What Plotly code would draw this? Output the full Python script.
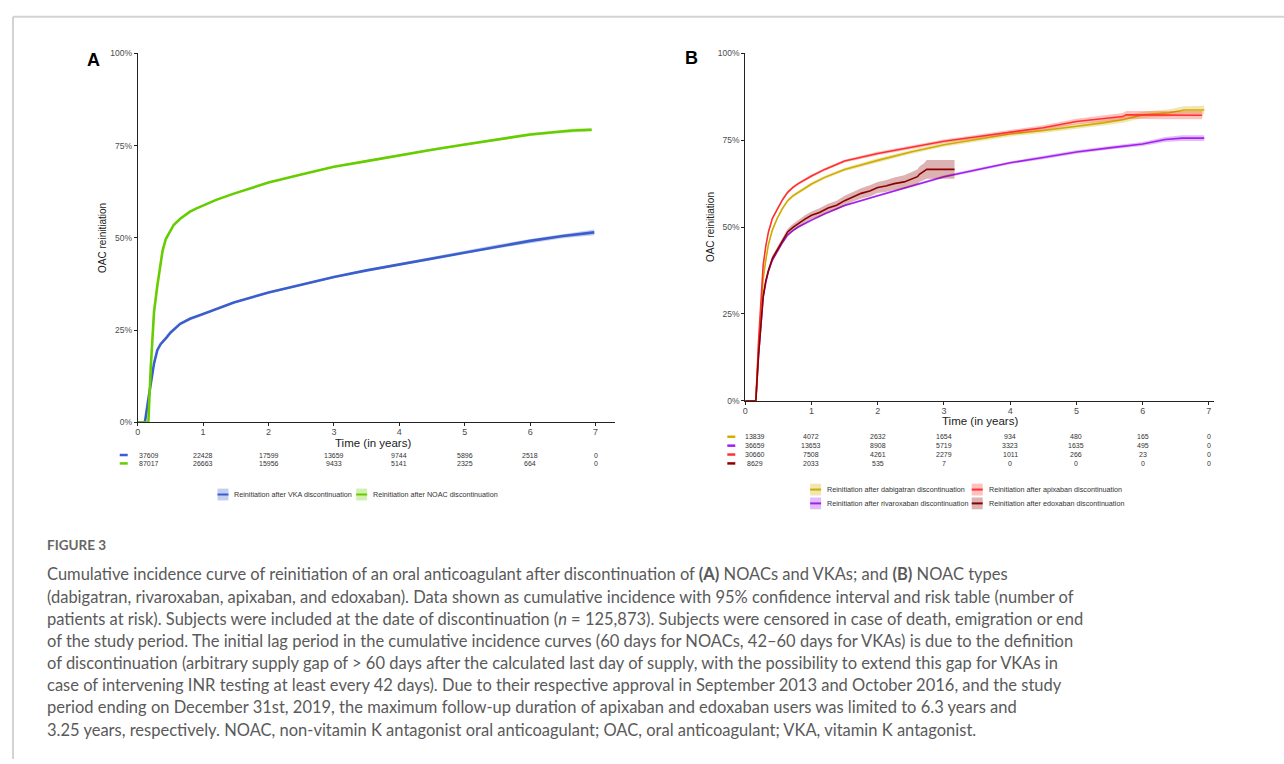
import plotly.graph_objects as go

W, H = 1284, 764

# ---------------- data ----------------
years = [0, 1, 2, 3, 4, 5, 6, 7]
pct_ticks = [0, 0.25, 0.5, 0.75, 1.0]
pct_labels = ["0%", "25%", "50%", "75%", "100%"]

# Panel A
vka_t = [0, 0.11, 0.16, 0.22, 0.25, 0.30, 0.35, 0.44, 0.5, 0.65, 0.8, 1.0, 1.2, 1.47, 2.0, 2.5, 3.0, 3.5, 4.0, 4.5, 5.0, 5.5, 6.0, 6.5, 6.98]
vka_y = [0, 0, 0.06, 0.13, 0.16, 0.196, 0.212, 0.23, 0.243, 0.267, 0.281, 0.294, 0.308, 0.325, 0.352, 0.374, 0.394, 0.412, 0.428, 0.444, 0.462, 0.477, 0.492, 0.505, 0.515]
vka_ci = [0, 0, 0.002, 0.002, 0.002, 0.002, 0.002, 0.002, 0.002, 0.002, 0.002, 0.002, 0.002, 0.002, 0.003, 0.003, 0.003, 0.003, 0.004, 0.004, 0.004, 0.005, 0.005, 0.006, 0.008]

noac_t = [0, 0.163, 0.20, 0.25, 0.30, 0.34, 0.38, 0.43, 0.49, 0.55, 0.65, 0.72, 0.8, 0.9, 1.0, 1.2, 1.47, 2.0, 2.5, 3.0, 3.5, 4.0, 4.5, 5.0, 5.5, 6.0, 6.4, 6.65, 6.94]
noac_y = [0, 0, 0.15, 0.30, 0.37, 0.425, 0.465, 0.497, 0.518, 0.535, 0.552, 0.562, 0.571, 0.58, 0.588, 0.603, 0.62, 0.65, 0.672, 0.693, 0.708, 0.724, 0.739, 0.753, 0.766, 0.78, 0.787, 0.791, 0.793]
noac_ci = [0, 0, 0.002, 0.002, 0.002, 0.002, 0.002, 0.002, 0.002, 0.002, 0.002, 0.002, 0.002, 0.002, 0.002, 0.002, 0.002, 0.002, 0.002, 0.002, 0.003, 0.003, 0.003, 0.003, 0.003, 0.004, 0.004, 0.005, 0.005]

risk_A_vka = ["37609", "22428", "17599", "13659", "9744", "5896", "2518", "0"]
risk_A_noac = ["87017", "26663", "15956", "9433", "5141", "2325", "664", "0"]

# Panel B
dabi_t = [0, 0.16, 0.20, 0.24, 0.27, 0.31, 0.35, 0.41, 0.48, 0.56, 0.64, 0.72, 0.8, 0.9, 1.0, 1.2, 1.5, 2.0, 2.5, 3.0, 3.5, 4.0, 4.5, 5.0, 5.4, 5.7, 6.0, 6.4, 6.63, 6.93]
dabi_y = [0, 0, 0.15, 0.28, 0.35, 0.405, 0.45, 0.492, 0.524, 0.553, 0.576, 0.59, 0.60, 0.613, 0.624, 0.643, 0.666, 0.692, 0.716, 0.737, 0.753, 0.768, 0.778, 0.79, 0.80, 0.809, 0.823, 0.829, 0.837, 0.837]
dabi_ci = [0, 0, 0.004, 0.005, 0.005, 0.005, 0.005, 0.005, 0.005, 0.005, 0.005, 0.005, 0.005, 0.005, 0.005, 0.005, 0.005, 0.006, 0.006, 0.006, 0.006, 0.007, 0.007, 0.008, 0.008, 0.009, 0.009, 0.010, 0.011, 0.012]

apix_t = [0, 0.16, 0.20, 0.24, 0.27, 0.31, 0.35, 0.41, 0.48, 0.56, 0.64, 0.72, 0.8, 0.9, 1.0, 1.2, 1.5, 2.0, 2.5, 3.0, 3.5, 4.0, 4.5, 5.0, 5.4, 5.7, 5.75, 6.3, 6.9]
apix_y = [0, 0, 0.17, 0.31, 0.39, 0.445, 0.486, 0.525, 0.55, 0.578, 0.60, 0.614, 0.625, 0.637, 0.647, 0.666, 0.69, 0.712, 0.73, 0.747, 0.76, 0.773, 0.786, 0.804, 0.813, 0.818, 0.823, 0.822, 0.822]
apix_ci = [0, 0, 0.004, 0.004, 0.004, 0.004, 0.004, 0.004, 0.004, 0.004, 0.004, 0.004, 0.004, 0.004, 0.004, 0.004, 0.004, 0.005, 0.005, 0.005, 0.006, 0.006, 0.007, 0.008, 0.009, 0.010, 0.011, 0.012, 0.012]

riva_t = [0, 0.16, 0.20, 0.24, 0.27, 0.31, 0.35, 0.41, 0.48, 0.56, 0.64, 0.72, 0.8, 0.9, 1.0, 1.2, 1.5, 2.0, 2.5, 3.0, 3.5, 4.0, 4.5, 5.0, 5.5, 6.0, 6.34, 6.6, 6.93]
riva_y = [0, 0, 0.13, 0.24, 0.297, 0.34, 0.373, 0.405, 0.43, 0.455, 0.477, 0.49, 0.50, 0.511, 0.52, 0.538, 0.562, 0.59, 0.618, 0.645, 0.665, 0.685, 0.70, 0.716, 0.728, 0.739, 0.752, 0.756, 0.756]
riva_ci = [0, 0, 0.003, 0.003, 0.003, 0.003, 0.003, 0.003, 0.003, 0.003, 0.003, 0.003, 0.003, 0.003, 0.003, 0.003, 0.003, 0.003, 0.004, 0.004, 0.004, 0.004, 0.005, 0.005, 0.005, 0.006, 0.007, 0.008, 0.008]

edox_t = [0, 0.16, 0.20, 0.24, 0.27, 0.31, 0.35, 0.41, 0.48, 0.56, 0.64, 0.72, 0.8, 0.9, 1.0, 1.12, 1.25, 1.38, 1.5, 1.62, 1.75, 1.88, 2.0, 2.12, 2.25, 2.4, 2.52, 2.6, 2.63, 2.7, 2.74, 3.16]
edox_y = [0, 0, 0.13, 0.24, 0.30, 0.345, 0.375, 0.41, 0.434, 0.462, 0.486, 0.499, 0.51, 0.523, 0.534, 0.542, 0.555, 0.563, 0.576, 0.587, 0.597, 0.604, 0.614, 0.618, 0.625, 0.63, 0.638, 0.645, 0.652, 0.66, 0.666, 0.666]
edox_ci = [0, 0, 0.006, 0.008, 0.008, 0.008, 0.008, 0.008, 0.008, 0.009, 0.009, 0.010, 0.010, 0.011, 0.011, 0.012, 0.012, 0.013, 0.014, 0.014, 0.015, 0.016, 0.016, 0.017, 0.018, 0.019, 0.020, 0.021, 0.022, 0.024, 0.027, 0.027]

risk_B_dabi = ["13839", "4072", "2632", "1654", "934", "480", "165", "0"]
risk_B_riva = ["36659", "13653", "8908", "5719", "3323", "1635", "495", "0"]
risk_B_apix = ["30660", "7508", "4261", "2279", "1011", "266", "23", "0"]
risk_B_edox = ["8629", "2033", "535", "7", "0", "0", "0", "0"]

names_A = ["Reinitiation after VKA discontinuation", "Reinitiation after NOAC discontinuation"]
names_B = ["Reinitiation after dabigatran discontinuation", "Reinitiation after apixaban discontinuation",
           "Reinitiation after rivaroxaban discontinuation", "Reinitiation after edoxaban discontinuation"]

x_title = "Time (in years)"
y_title = "OAC reinitiation"

caption_title = "FIGURE 3"
caption_lines = [
    "Cumulative incidence curve of reinitiation of an oral anticoagulant after discontinuation of <b>(A)</b> NOACs and VKAs; and <b>(B)</b> NOAC types",
    "(dabigatran, rivaroxaban, apixaban, and edoxaban). Data shown as cumulative incidence with 95% confidence interval and risk table (number of",
    "patients at risk). Subjects were included at the date of discontinuation (<i>n</i> = 125,873). Subjects were censored in case of death, emigration or end",
    "of the study period. The initial lag period in the cumulative incidence curves (60 days for NOACs, 42\u201360 days for VKAs) is due to the definition",
    "of discontinuation (arbitrary supply gap of > 60 days after the calculated last day of supply, with the possibility to extend this gap for VKAs in",
    "case of intervening INR testing at least every 42 days). Due to their respective approval in September 2013 and October 2016, and the study",
    "period ending on December 31st, 2019, the maximum follow-up duration of apixaban and edoxaban users was limited to 6.3 years and",
    "3.25 years, respectively. NOAC, non-vitamin K antagonist oral anticoagulant; OAC, oral anticoagulant; VKA, vitamin K antagonist.",
]

C_VKA, C_NOAC = "#3A5FCD", "#66CD00"
C_DABI, C_APIX, C_RIVA, C_EDOX = "#CDAD00", "#FF3030", "#A020F0", "#8B0000"


def rgba(hexc, a):
    h = hexc.lstrip("#")
    return "rgba(%d,%d,%d,%.2f)" % (int(h[0:2], 16), int(h[2:4], 16), int(h[4:6], 16), a)


def px(x):
    return x / W


def py(y):
    return 1 - y / H


fig = go.Figure()


def add_curve(t, y, ci, color, name, xa, ya, lw):
    up = [a + b for a, b in zip(y, ci)]
    lo = [max(a - b, 0) for a, b in zip(y, ci)]
    fig.add_trace(go.Scatter(x=t, y=up, mode="lines", line=dict(width=0, color=color),
                             xaxis=xa, yaxis=ya, showlegend=False, hoverinfo="skip"))
    fig.add_trace(go.Scatter(x=t, y=lo, mode="lines", line=dict(width=0, color=color),
                             fill="tonexty", fillcolor=rgba(color, 0.3),
                             xaxis=xa, yaxis=ya, showlegend=False, hoverinfo="skip"))
    fig.add_trace(go.Scatter(x=t, y=y, mode="lines", line=dict(width=lw, color=color),
                             xaxis=xa, yaxis=ya, name=name, showlegend=False))


add_curve(vka_t, vka_y, vka_ci, C_VKA, names_A[0], "x", "y", 2.6)
add_curve(noac_t, noac_y, noac_ci, C_NOAC, names_A[1], "x", "y", 2.6)

add_curve(riva_t, riva_y, riva_ci, C_RIVA, names_B[2], "x2", "y2", 1.6)
add_curve(dabi_t, dabi_y, dabi_ci, C_DABI, names_B[0], "x2", "y2", 1.6)
add_curve(apix_t, apix_y, apix_ci, C_APIX, names_B[1], "x2", "y2", 1.6)
add_curve(edox_t, edox_y, edox_ci, C_EDOX, names_B[3], "x2", "y2", 1.6)

FONT = "Liberation Sans, Arial, sans-serif"
TICKC = "#4d4d4d"

axis_common = dict(showgrid=False, zeroline=False, showline=True, linecolor="#222", linewidth=1,
                   ticks="outside", ticklen=3, tickcolor="#222", tickwidth=1)

fig.update_layout(
    width=W, height=H, margin=dict(l=0, r=0, t=0, b=0),
    paper_bgcolor="white", plot_bgcolor="white",
    font=dict(family=FONT, color="#222"),
    showlegend=False,
    xaxis=dict(domain=[px(135), px(613)], range=[0, 7.29], tickvals=years, anchor="y",
               tickfont=dict(size=9, color=TICKC), ticklabelstandoff=-2, **axis_common),
    yaxis=dict(domain=[py(423), py(49)], range=[0, 1], tickvals=pct_ticks, ticktext=pct_labels, anchor="x",
               tickfont=dict(size=8.5, color=TICKC),
               title=dict(text=y_title, font=dict(size=10, color="#222"), standoff=1),
               **axis_common),
    xaxis2=dict(domain=[px(744), px(1214)], range=[0, 7.08], tickvals=years, anchor="y2",
                tickfont=dict(size=9, color=TICKC), ticklabelstandoff=-2, **axis_common),
    yaxis2=dict(domain=[py(401), py(49)], range=[0, 1], tickvals=pct_ticks, ticktext=pct_labels, anchor="x2",
                tickfont=dict(size=8.5, color=TICKC),
                title=dict(text=y_title, font=dict(size=10, color="#222"), standoff=1),
                **axis_common),
)

ann = []
shapes = []

# x-axis titles
ann.append(dict(text=x_title, x=px(371), y=py(443.5), xref="paper", yref="paper", showarrow=False,
                xanchor="center", yanchor="middle", font=dict(size=11.5, color="#222", family=FONT)))
ann.append(dict(text=x_title, x=px(979), y=py(421.5), xref="paper", yref="paper", showarrow=False,
                xanchor="center", yanchor="middle", font=dict(size=11.5, color="#222", family=FONT)))

# panel letters
ann.append(dict(text="<b>A</b>", x=px(91), y=py(56), xref="paper", yref="paper", showarrow=False,
                xanchor="center", yanchor="middle", font=dict(size=18, color="#000", family=FONT)))
ann.append(dict(text="<b>B</b>", x=px(690), y=py(54), xref="paper", yref="paper", showarrow=False,
                xanchor="center", yanchor="middle", font=dict(size=18, color="#000", family=FONT)))


def risk_rows(rows, colors, xref, ys, sw_x0, first_shift):
    for vals, col, yy in zip(rows, colors, ys):
        shapes.append(dict(type="line", xref="paper", yref="paper", x0=px(sw_x0), x1=px(sw_x0 + 8),
                           y0=py(yy), y1=py(yy), line=dict(color=col, width=2.5)))
        for i, (t, v) in enumerate(zip(years, vals)):
            ann.append(dict(text=v, x=t, y=py(yy), xref=xref, yref="paper", showarrow=False,
                            yanchor="middle", xshift=first_shift if i == 0 else 0,
                            font=dict(size=7, color="#333", family=FONT)))


risk_rows([risk_A_vka, risk_A_noac], [C_VKA, C_NOAC], "x", [456, 464.5], 117, 11)
risk_rows([risk_B_dabi, risk_B_riva, risk_B_apix, risk_B_edox], [C_DABI, C_RIVA, C_APIX, C_EDOX],
          "x2", [437.5, 446.5, 455.5, 464.5], 726, 10)


def legend_key(x0, yy, color, text):
    shapes.append(dict(type="rect", xref="paper", yref="paper", x0=px(x0), x1=px(x0 + 11),
                       y0=py(yy + 6), y1=py(yy - 6), fillcolor=rgba(color, 0.3), line=dict(width=0)))
    shapes.append(dict(type="line", xref="paper", yref="paper", x0=px(x0), x1=px(x0 + 11),
                       y0=py(yy), y1=py(yy), line=dict(color=color, width=2)))
    ann.append(dict(text=text, x=px(x0 + 15), y=py(yy), xref="paper", yref="paper", showarrow=False,
                    xanchor="left", yanchor="middle", font=dict(size=7.2, color="#333", family=FONT)))


legend_key(215, 496, C_VKA, names_A[0])
legend_key(354, 496, C_NOAC, names_A[1])
legend_key(809, 491, C_DABI, names_B[0])
legend_key(971, 491, C_APIX, names_B[1])
legend_key(809, 505, C_RIVA, names_B[2])
legend_key(971, 505, C_EDOX, names_B[3])

# caption
CAPF = "Lato, Open Sans, sans-serif"
ann.append(dict(text="<b>" + caption_title + "</b>", x=px(42), y=py(547), xref="paper", yref="paper",
                showarrow=False, xanchor="left", yanchor="middle", font=dict(size=13.5, color="#666", family=CAPF)))
for i, line in enumerate(caption_lines):
    ann.append(dict(text=line, x=px(42), y=py(577 + i * 22.45), xref="paper", yref="paper",
                    showarrow=False, xanchor="left", yanchor="middle",
                    font=dict(size=16.5, color="#5a5a5a", family=CAPF)))

# frame
shapes.append(dict(type="line", xref="paper", yref="paper", x0=px(10), x1=px(10), y0=py(12), y1=0,
                   line=dict(color="#d3d3d3", width=2)))
shapes.append(dict(type="line", xref="paper", yref="paper", x0=px(10), x1=1, y0=py(12), y1=py(12),
                   line=dict(color="#d3d3d3", width=2)))

fig.update_layout(annotations=ann, shapes=shapes)
fig.write_html("out.html")
